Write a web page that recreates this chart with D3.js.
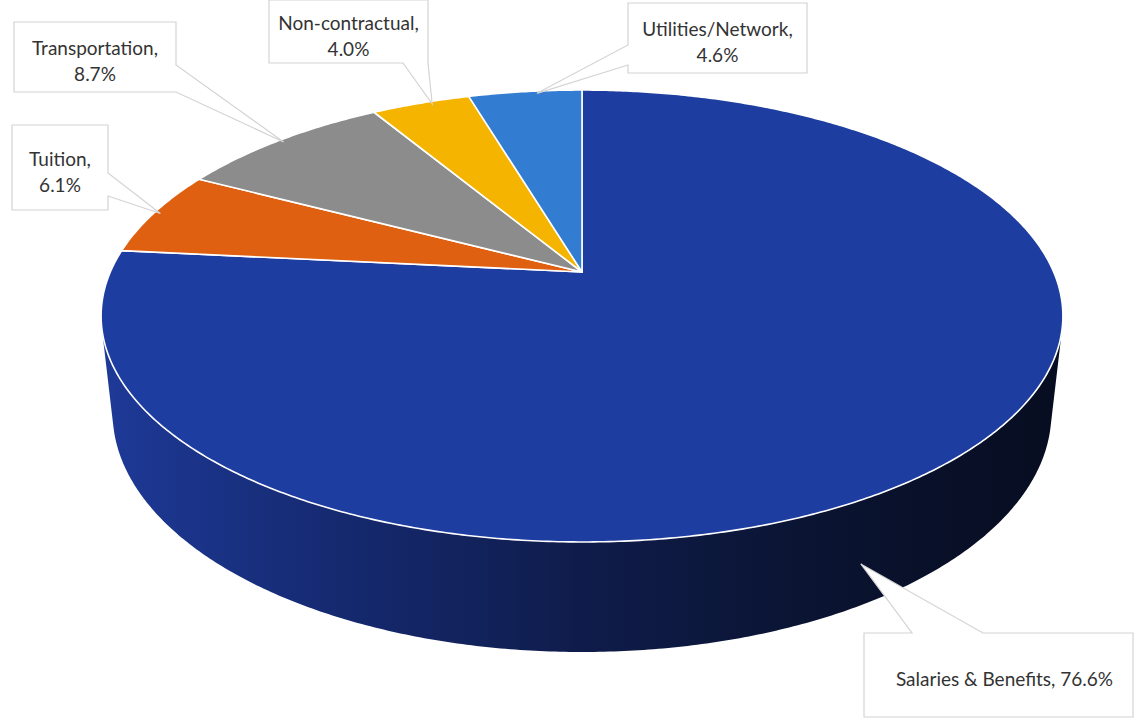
<!DOCTYPE html>
<html>
<head>
<meta charset="utf-8">
<script src="https://cdn.jsdelivr.net/npm/d3@7"></script>
<style>
  body { margin: 0; background: #ffffff; }
  svg { display: block; }
</style>
</head>
<body>
<svg id="chart" width="1136" height="719"></svg>
<script>
// ---- data ----
const categories = ["Salaries & Benefits", "Tuition", "Transportation", "Non-contractual", "Utilities/Network"];
const shares = [76.6, 6.1, 8.7, 4.0, 4.6];
const topColors = ["#1E3DA0", "#DE6010", "#8C8C8C", "#F5B400", "#327DD2"];
const sideColors = [["#1E3A98", "#15296F", "#0F1C4A", "#0A1330", "#070D20"],
                    ["#A8470A"], ["#666666"], ["#B88700"], ["#245C9E"]];

// ---- label callouts (box, pointer base, where the pointer lands) ----
const callouts = [
  { box: [864, 633, 269, 84], edge: "top",    base: [912, 983], at: 0.544, level: 0.6, lines: 1 },
  { box: [12, 125, 96, 85],   edge: "right",  base: [173, 196], at: 0.5,   level: 0,   lines: 2 },
  { box: [14, 22, 162, 70],   edge: "right",  base: [65, 92],   at: 0.5,   level: 0,   lines: 2 },
  { box: [269, 0, 159, 63],   edge: "bottom", base: [403, 428], at: 0.6,   level: 0,   lines: 2 },
  { box: [628, 3, 179, 70],   edge: "left",   base: [45, 65],   at: 0.6,   level: 0,   lines: 2 }
];

// ---- perspective view of a flat cylinder ----
const view = { cx: 582, cy: 272, f: 2149, dist: 4.556, sinT: 0.4609, cosT: 0.887, depth: 0.2333 };

// a: angle clockwise from 12 o'clock (d3.pie convention), r: radius fraction, lvl: height (0 = top face)
function project(a, r, lvl) {
  const X = r * Math.sin(a), Z = r * Math.cos(a), Y = lvl;
  const u = Z * view.sinT + Y * view.cosT;
  const d = view.dist + Z * view.cosT - Y * view.sinT;
  return [view.cx + view.f * X / d, view.cy - view.f * u / d];
}

function arcPoints(a0, a1, lvl) {
  const n = Math.max(2, Math.ceil(Math.abs(a1 - a0) / (Math.PI / 360)));
  return d3.range(n + 1).map(i => project(a0 + (a1 - a0) * i / n, 1, lvl));
}

const svg = d3.select("#chart");
const defs = svg.append("defs");

const pie = d3.pie().sort(null).value(d => d).startAngle(0).endAngle(2 * Math.PI);
const arcs = pie(shares);

// side wall is visible where its outward normal faces the camera
const visLimit = Math.acos(-1 / (view.dist * view.cosT));
const vis0 = visLimit, vis1 = 2 * Math.PI - visLimit;

// side gradients
sideColors.forEach((stops, i) => {
  const g = defs.append("linearGradient")
    .attr("id", "side" + i)
    .attr("gradientUnits", "userSpaceOnUse")
    .attr("x1", 100).attr("y1", 0).attr("x2", 1070).attr("y2", 0);
  const sc = stops.length > 1 ? stops : [stops[0], stops[0]];
  sc.forEach((c, k) => g.append("stop")
    .attr("offset", (k / (sc.length - 1) * 100) + "%")
    .attr("stop-color", c));
});

const line = d3.line();

// side walls
const sides = svg.append("g");
arcs.forEach((a, i) => {
  const s0 = Math.max(a.startAngle, vis0), s1 = Math.min(a.endAngle, vis1);
  if (s1 <= s0) return;
  const pts = arcPoints(s0, s1, 0).concat(arcPoints(s1, s0, -view.depth));
  sides.append("path")
    .attr("d", line(pts) + "Z")
    .attr("fill", `url(#side${i})`);
});

// top faces
const tops = svg.append("g");
arcs.forEach((a, i) => {
  const pts = [project(0, 0, 0)].concat(arcPoints(a.startAngle, a.endAngle, 0));
  tops.append("path")
    .attr("d", line(pts) + "Z")
    .attr("fill", topColors[i])
    .attr("stroke", "#FFFFFF")
    .attr("stroke-width", 1.6)
    .attr("stroke-linejoin", "round");
});

// callout outline: rectangle with a pointer leaving one edge
function calloutPath(c, tip) {
  const [x, y, w, h] = c.box, [b0, b1] = c.base;
  const p = [];
  p.push([x, y]);
  if (c.edge === "top") p.push([b0, y], tip, [b1, y]);
  p.push([x + w, y]);
  if (c.edge === "right") p.push([x + w, b0], tip, [x + w, b1]);
  p.push([x + w, y + h]);
  if (c.edge === "bottom") p.push([b1, y + h], tip, [b0, y + h]);
  p.push([x, y + h]);
  if (c.edge === "left") p.push([x, b1], tip, [x, b0]);
  return line(p) + "Z";
}

const fmt = d3.format(".1f");
const labels = svg.append("g")
  .attr("font-family", "Lato, 'Open Sans', sans-serif")
  .attr("font-size", 19)
  .attr("fill", "#333333");

arcs.forEach((a, i) => {
  const c = callouts[i];
  const ang = a.startAngle + (a.endAngle - a.startAngle) * c.at;
  const tip = project(ang, c.level > 0 ? 1 : 0.985, -c.level * view.depth);
  labels.append("path")
    .attr("d", calloutPath(c, tip))
    .attr("fill", "#FFFFFF")
    .attr("stroke", "#D4D4D4")
    .attr("stroke-width", 1.2);
  const [x, y, w, h] = c.box;
  const tx = x + w / 2 + (c.lines === 1 ? 6 : 0);
  const ty = y + h / 2 + 3;
  const t = labels.append("text")
    .attr("text-anchor", "middle")
    .attr("dominant-baseline", "central");
  if (c.lines === 1) {
    t.attr("x", tx).attr("y", ty).text(`${categories[i]}, ${fmt(shares[i])}%`);
  } else {
    t.append("tspan").attr("x", tx).attr("y", ty - 13).text(`${categories[i]},`);
    t.append("tspan").attr("x", tx).attr("y", ty + 13).text(`${fmt(shares[i])}%`);
  }
});
</script>
</body>
</html>
